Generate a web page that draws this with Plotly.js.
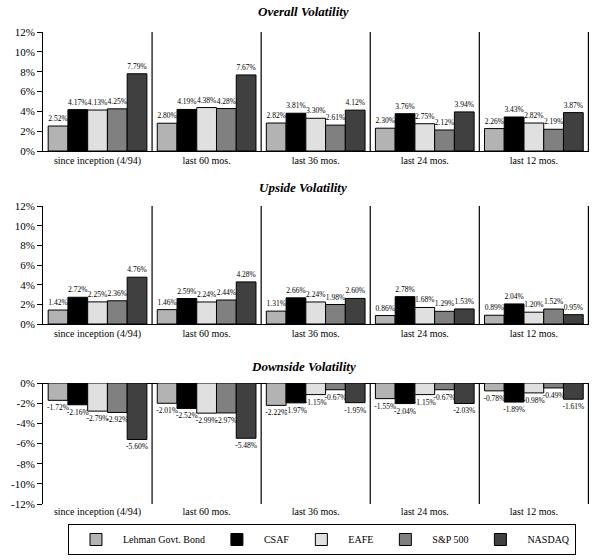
<!DOCTYPE html>
<html>
<head>
<meta charset="utf-8">
<script src="https://cdn.plot.ly/plotly-3.0.1.min.js"></script>
<style>html,body{margin:0;padding:0;background:#fff;}#chart{width:603px;height:560px;}</style>
</head>
<body>
<div id="chart"></div>
<script>
const categories = ['since inception (4/94)', 'last 60 mos.', 'last 36 mos.', 'last 24 mos.', 'last 12 mos.'];
const seriesNames = ['Lehman Govt. Bond', 'CSAF', 'EAFE', 'S&P 500', 'NASDAQ'];
const panelTitles = ['Overall Volatility', 'Upside Volatility', 'Downside Volatility'];

// Overall volatility (%)
const overallLehman = [2.52, 2.80, 2.82, 2.30, 2.26];
const overallCSAF   = [4.17, 4.19, 3.81, 3.76, 3.43];
const overallEAFE   = [4.13, 4.38, 3.30, 2.75, 2.82];
const overallSP500  = [4.25, 4.28, 2.61, 2.12, 2.19];
const overallNASDAQ = [7.79, 7.67, 4.12, 3.94, 3.87];

// Upside volatility (%)
const upsideLehman = [1.42, 1.46, 1.31, 0.86, 0.89];
const upsideCSAF   = [2.72, 2.59, 2.66, 2.78, 2.04];
const upsideEAFE   = [2.25, 2.24, 2.24, 1.68, 1.20];
const upsideSP500  = [2.36, 2.44, 1.98, 1.29, 1.52];
const upsideNASDAQ = [4.76, 4.28, 2.60, 1.53, 0.95];

// Downside volatility (%)
const downsideLehman = [-1.72, -2.01, -2.22, -1.55, -0.78];
const downsideCSAF   = [-2.16, -2.52, -1.97, -2.04, -1.89];
const downsideEAFE   = [-2.79, -2.99, -1.15, -1.15, -0.98];
const downsideSP500  = [-2.92, -2.97, -0.67, -0.67, -0.49];
const downsideNASDAQ = [-5.60, -5.48, -1.95, -2.03, -1.61];

const upTicks = [0, 2, 4, 6, 8, 10, 12];
const downTicks = [-12, -10, -8, -6, -4, -2, 0];

const colors = ['#b3b3b3', '#000000', '#e0e0e0', '#808080', '#404040'];
const FONT = "'Liberation Serif', 'Times New Roman', serif";

const panels = [
  [overallLehman, overallCSAF, overallEAFE, overallSP500, overallNASDAQ],
  [upsideLehman, upsideCSAF, upsideEAFE, upsideSP500, upsideNASDAQ],
  [downsideLehman, downsideCSAF, downsideEAFE, downsideSP500, downsideNASDAQ]
];

const H = 560;
function dom(topPx, botPx) { return [1 - botPx / H, 1 - topPx / H]; }
const domains = [dom(32, 151), dom(206, 324), dom(383, 504)];

const traces = [];
panels.forEach((series, p) => {
  const sfx = p === 0 ? '' : String(p + 1);
  series.forEach((vals, s) => {
    traces.push({
      type: 'bar',
      name: seriesNames[s],
      x: categories,
      y: vals,
      xaxis: 'x' + sfx,
      yaxis: 'y' + sfx,
      marker: { color: colors[s], line: { color: '#000', width: 1 } },
      text: vals.map(v => v.toFixed(2) + '%'),
      textposition: 'outside',
      constraintext: 'none',
      cliponaxis: false,
      textfont: { family: FONT, size: 7.5, color: '#000' },
      showlegend: p === 0,
      legendgroup: seriesNames[s],
      hoverinfo: 'x+y+name'
    });
  });
});

const layout = {
  width: 603, height: 560,
  margin: { l: 43, r: 13.5, t: 0, b: 0, autoexpand: false },
  paper_bgcolor: '#fff', plot_bgcolor: '#fff',
  barmode: 'group', bargap: 0.095, bargroupgap: 0,
  font: { family: FONT, color: '#000', size: 10 },
  showlegend: true,
  legend: {
    orientation: 'h', x: (68 - 43) / 546.5, xanchor: 'left', y: 1 - 524 / H, yanchor: 'top',
    bordercolor: '#000', borderwidth: 1, bgcolor: '#fff',
    font: { family: FONT, size: 10, color: '#000' },
    traceorder: 'normal', itemwidth: 44
  },
  shapes: [], annotations: []
};

const titleCenters = [11, 188, 366];
panels.forEach((series, p) => {
  const sfx = p === 0 ? '' : String(p + 1);
  const xa = 'xaxis' + sfx, ya = 'yaxis' + sfx;
  const isDown = p === 2;
  layout[xa] = {
    type: 'category', anchor: 'y' + sfx, domain: [0, 1],
    showline: !isDown, linecolor: '#000', linewidth: 1,
    ticks: '', showgrid: false, zeroline: false,
    tickfont: { family: FONT, size: 10, color: '#000' },
    fixedrange: true
  };
  const tv = isDown ? downTicks : upTicks;
  layout[ya] = {
    anchor: 'x' + sfx, domain: domains[p],
    range: isDown ? [-12, 0] : [0, 12],
    tickvals: tv, ticktext: tv.map(v => v + '%'),
    ticks: 'outside', ticklen: 5, tickcolor: '#000', tickwidth: 1,
    showline: true, linecolor: '#000', linewidth: 1,
    showgrid: false, zeroline: isDown, zerolinecolor: '#000', zerolinewidth: 1,
    tickfont: { family: FONT, size: 11, color: '#000' },
    fixedrange: true
  };
  // category separators
  for (let k = 0; k < categories.length; k++) {
    layout.shapes.push({
      type: 'line', xref: 'x' + sfx, yref: 'y' + sfx + ' domain',
      x0: k + 0.5, x1: k + 0.5, y0: 0, y1: 1,
      line: { color: '#000', width: 1.2 }
    });
  }
  layout.annotations.push({
    xref: 'paper', yref: 'paper',
    x: (303.5 - 43) / 546.5, y: 1 - titleCenters[p] / H,
    xanchor: 'center', yanchor: 'middle', showarrow: false,
    text: panelTitles[p],
    font: { family: FONT, size: 13, color: '#000', weight: 'bold', style: 'italic' }
  });
});

Plotly.newPlot('chart', traces, layout, { staticPlot: true, displayModeBar: false });
</script>
</body>
</html>
